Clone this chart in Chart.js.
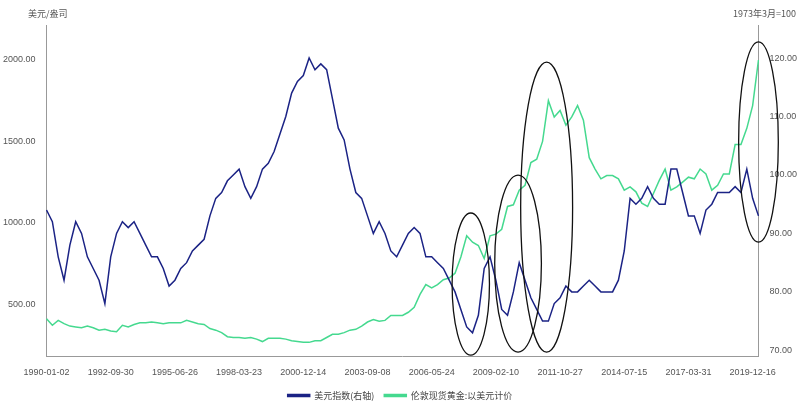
<!DOCTYPE html>
<html><head><meta charset="utf-8">
<script src="https://cdn.jsdelivr.net/npm/chart.js@4/dist/chart.umd.min.js"></script>
<style>html,body{margin:0;background:#fff}#w{width:800px;height:410px}</style>
</head><body><div id="w"><canvas id="c"></canvas></div>
<script>
const tickLabels=["1990-01-02","1992-09-30","1995-06-26","1998-03-23","2000-12-14","2003-09-08","2006-05-24","2009-02-10","2011-10-27","2014-07-15","2017-03-31","2019-12-16"];
const dollarIndex=[94,92,86,82,88,92,90,86,84,82,78,86,90,92,91,92,90,88,86,86,84,81,82,84,85,87,88,89,93,96,97,99,100,101,98,96,98,101,102,104,107,110,114,116,117,120,118,119,118,113,108,106,101,97,96,93,90,92,90,87,86,88,90,91,90,86,86,85,84,82,80,77,74,73,76,84,86,82,77,76,80,85,82,79,77,75,75,78,79,81,80,80,81,82,81,80,80,80,82,87,96,95,96,98,96,95,95,101,101,97,93,93,90,94,95,97,97,97,98,97,101,96,93];
const goldPrice=[410,370,400,380,365,360,355,365,355,340,345,335,330,370,360,375,385,385,390,385,380,385,385,385,400,390,380,375,350,340,325,300,295,295,290,295,285,270,290,290,290,285,275,270,265,265,275,275,295,315,315,325,340,345,365,390,405,395,400,430,430,430,450,480,560,620,600,620,650,660,690,790,920,880,860,780,920,930,960,1100,1110,1200,1230,1370,1390,1500,1750,1650,1690,1600,1650,1720,1630,1400,1330,1270,1290,1290,1270,1200,1220,1190,1120,1100,1180,1260,1330,1200,1220,1250,1280,1270,1330,1300,1200,1230,1300,1300,1480,1480,1580,1720,2000];
const labels=dollarIndex.map((v,i)=>i%11===0?tickLabels[i/11]:"q"+i);
// ellipses: [centerIndex, centerGold, widthIndex, heightGold]
const ellipses=[[72.7,623,6.4,874],[80.8,749,8,1088],[85.7,1096,8.9,1783],[122,1496,6.8,1230]];
const ellPlugin={id:'ell',afterDatasetsDraw(ch){const x=ch.scales.x,y=ch.scales.y,c=ch.ctx;c.save();c.strokeStyle='#111';c.lineWidth=1.3;
ellipses.forEach(e=>{const cx=x.getPixelForValue(e[0]),cy=y.getPixelForValue(e[1]);const rx=Math.abs(x.getPixelForValue(e[0]+e[2]/2)-cx),ry=Math.abs(y.getPixelForValue(e[1]+e[3]/2)-cy);c.beginPath();c.ellipse(cx,cy,rx,ry,0,0,Math.PI*2);c.stroke();});
c.fillStyle='#555';c.font='9px "Noto Sans CJK SC"';c.textAlign='left';c.fillText('美元/盎司',28,14);c.textAlign='right';c.fillText('1973年3月=100',796,14);c.restore();}};
new Chart(document.getElementById('c'),{type:'line',plugins:[ellPlugin],
data:{labels,datasets:[
{label:'美元指数(右轴)',data:dollarIndex,yAxisID:'y1',borderColor:'#1b2385',backgroundColor:'#1b2385',borderWidth:1.5,pointRadius:0,tension:0},
{label:'伦敦现货黄金:以美元计价',data:goldPrice,yAxisID:'y',borderColor:'#45d98f',backgroundColor:'#45d98f',borderWidth:1.5,pointRadius:0,tension:0}]},
options:{responsive:true,maintainAspectRatio:false,animation:false,
layout:{padding:{top:25,left:0,right:0,bottom:0}},
plugins:{legend:{position:'bottom',labels:{boxWidth:22,boxHeight:2,font:{size:9,family:'"Noto Sans CJK SC"'},color:'#444'}},tooltip:{enabled:false}},
scales:{
x:{grid:{display:false},border:{color:'#999'},ticks:{autoSkip:false,maxRotation:0,font:{size:9},color:'#555',callback:(v,i)=>i%11===0?tickLabels[i/11]:null}},
y:{position:'left',min:180,max:2215,grid:{display:false},border:{color:'#999'},afterBuildTicks:a=>{a.ticks=[500,1000,1500,2000].map(v=>({value:v}))},ticks:{font:{size:9},color:'#555',callback:v=>v.toFixed(2)}},
y1:{position:'right',min:69.0,max:125.65,grid:{display:false},border:{color:'#999'},afterBuildTicks:a=>{a.ticks=[70,80,90,100,110,120].map(v=>({value:v}))},ticks:{font:{size:9},color:'#555',callback:v=>v.toFixed(2)}}
}}});
</script></body></html>
